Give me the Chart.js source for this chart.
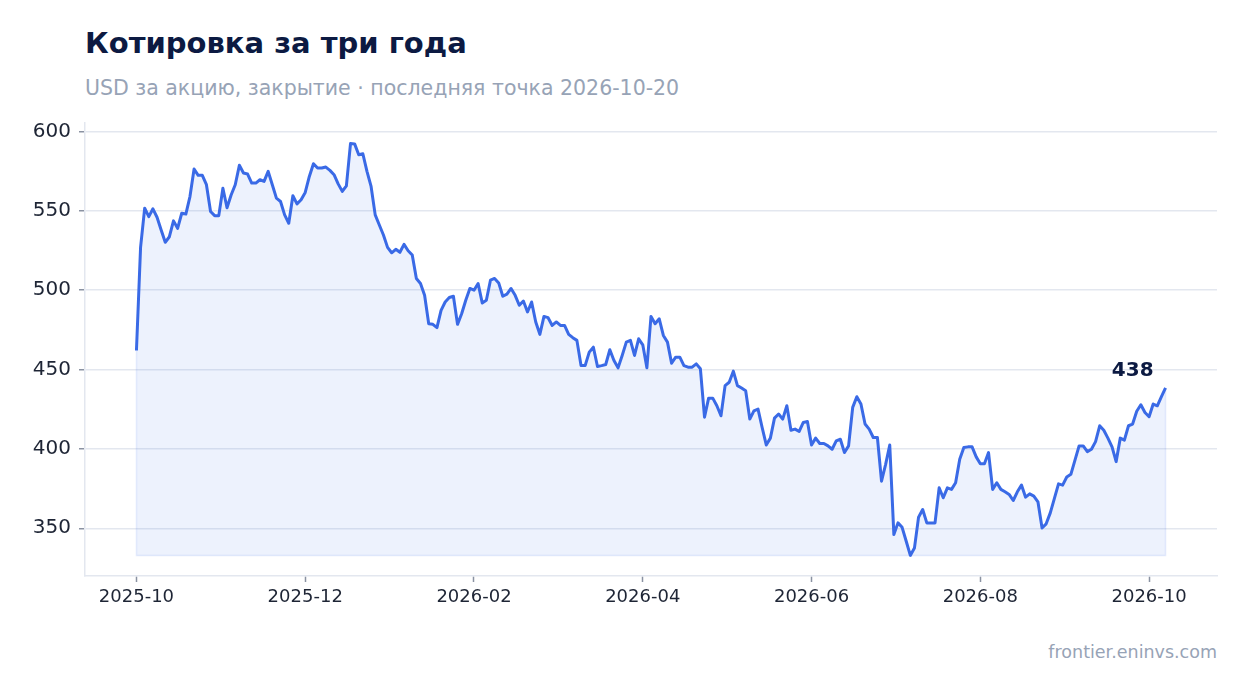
<!DOCTYPE html>
<html>
<head>
<meta charset="utf-8">
<script src="https://cdn.jsdelivr.net/npm/chart.js@4"></script>
<style>
  body { margin: 0; background: #fff; font-family: "DejaVu Sans", sans-serif; }
  #wrap { position: relative; width: 1247px; height: 693px; overflow: hidden; }
  #title { position: absolute; left: 85px; top: 26px; font-size: 29px; font-weight: bold; color: #0c1a42; white-space: nowrap; }
  #subtitle { position: absolute; left: 85px; top: 76px; font-size: 20.5px; color: #97a3b6; white-space: nowrap; }
  #footer { position: absolute; right: 30px; top: 642px; font-size: 17.5px; color: #97a3b6; }
  #chartBox { position: absolute; left: 0; top: 110px; width: 1247px; height: 510px; }
</style>
</head>
<body>
<div id="wrap">
  <div id="title">Котировка за три года</div>
  <div id="subtitle">USD за акцию, закрытие · последняя точка 2026-10-20</div>
  <div id="chartBox"><canvas id="priceChart"></canvas></div>
  <div id="footer">frontier.eninvs.com</div>
</div>
<script>
// closing prices, one per trading day
const prices = [
  462, 527, 551.7, 546.4, 551.3, 546, 538, 530.2, 533.7, 543.7, 539, 548.5, 548, 559, 576.4, 572.4,
  572.4, 566.5, 549.6, 547, 547, 564.3, 552, 560, 566.5, 578.7, 573.9, 573.2, 567.5, 567.5, 569.6,
  568.6, 574.9, 566.5, 558, 555.9, 547.5, 542.2, 559.5, 554.4, 557, 561.6, 571.7, 579.7, 577, 577,
  577.6, 575.5, 572.8, 567, 562.3, 565.8, 592.4, 592.2, 585.4, 586, 574.9, 565.4, 547.5,
  541.1, 534.8, 527, 523.6, 525.8, 523.9, 528.9, 524.9, 522.2, 507.4, 504.2, 496.8, 478.9, 478.5,
  476.4, 487.3, 492.6, 495.4, 496.2, 478.5, 485.2, 493.7, 501.1, 500, 504.2, 492, 493.7, 506.3,
  507.4, 504.6, 496.2, 497.5, 501.1,
  496.8, 490.5, 493.2, 486.3, 492.6, 480, 472.2, 483.5, 482.7, 477.8, 480, 477.8, 477.8, 472.2,
  470.1, 468.4, 452.5, 452.5, 461, 464.1, 451.9, 452.5, 453.2, 462.5, 455.7, 451.1, 458.9, 467.3,
  468.4, 458.9,
  469.4, 465.6, 451.1, 483.5, 478.9, 482, 471.5, 467.3, 454, 457.8, 457.8, 452.5, 451.5, 451.5,
  453.6, 450.5, 420, 432, 432, 427.2, 420.9, 439.9, 442, 449, 439.9, 438.4, 436.7, 418.8, 424, 425.1,
  413.5, 402.5, 406.8, 419.4, 422, 418.8, 427.2, 411.8, 412.5, 411, 416.7, 417.3, 402.5, 406.8,
  403.4, 403.4, 401.9, 399.8, 405.1, 406.1, 397.7, 401.9, 426.2, 432.9, 428.3, 415.7, 412.5, 407.2,
  407.2, 379.7,
  390.3, 402.5, 346, 353.4, 350.6, 341.8, 332.9, 337.5, 357, 361.8, 353.4, 353.4, 353.4, 375.5,
  369.2, 375.5, 374.5, 378.7, 393.5, 400.9, 401.3, 401.3, 395, 390.7, 390.7, 397.7, 374.5, 378.7,
  374.5, 373, 371.3,
  367.5, 373, 377.2, 369.6, 371.7, 370.3, 366.7, 350.2, 352.8, 359.7, 368.8, 378, 377.2, 382.3,
  384, 392.9, 401.9, 401.9, 398.3, 399.8, 404.6, 414.6, 411.8, 406.8, 401.3, 392, 406.8, 405.5,
  414.6, 415.7, 423.7, 427.8, 423, 420.3, 428.3, 427.2, 432.9, 438.4
];

// month labels, one every ~41 trading days
const xTickLabels = ['2025-10', '2025-12', '2026-02', '2026-04', '2026-06', '2026-08', '2026-10'];
const TICK_STEP = 41;
const yTicks = [350, 400, 450, 500, 550, 600];

const lineColor = '#3a6ae6';
const gridColor = '#e3e7ef';
const tickMarkColor = '#8a92a2';
const labelColor = '#1e2535';

const lo = Math.min(...prices), hi = Math.max(...prices);
const pad = (hi - lo) * 0.05;
const lastIdx = prices.length - 1;
const points = prices.map((v, i) => ({ x: i, y: v }));

// faint outline on the sides and bottom of the filled area, plus last value label
const extras = {
  id: 'extras',
  afterDatasetsDraw(chart) {
    const { ctx, scales: { x, y } } = chart;
    const x0 = x.getPixelForValue(0), x1 = x.getPixelForValue(lastIdx);
    const yb = y.getPixelForValue(lo);
    ctx.save();
    ctx.strokeStyle = 'rgba(58,106,230,0.13)';
    ctx.lineWidth = 1.5;
    ctx.beginPath();
    ctx.moveTo(x0, y.getPixelForValue(prices[0]));
    ctx.lineTo(x0, yb);
    ctx.lineTo(x1, yb);
    ctx.lineTo(x1, y.getPixelForValue(prices[lastIdx]));
    ctx.stroke();

    const px = x.getPixelForValue(lastIdx), py = y.getPixelForValue(prices[lastIdx]);
    ctx.fillStyle = '#0c1a42';
    ctx.font = 'bold 20px "DejaVu Sans"';
    ctx.textAlign = 'right';
    ctx.textBaseline = 'alphabetic';
    ctx.fillText(Math.round(prices[lastIdx]).toString(), px - 12, py - 12);
    ctx.restore();
  }
};

new Chart(document.getElementById('priceChart'), {
  type: 'line',
  data: {
    datasets: [{
      data: points,
      borderColor: lineColor,
      borderWidth: 3,
      backgroundColor: 'rgba(58,106,230,0.09)',
      fill: { value: lo },
      pointRadius: 0,
      tension: 0,
      borderJoinStyle: 'round'
    }]
  },
  options: {
    responsive: true,
    maintainAspectRatio: false,
    animation: false,
    layout: { padding: { top: 13, right: 30, left: 0, bottom: 0 } },
    plugins: { legend: { display: false }, tooltip: { enabled: false } },
    scales: {
      x: {
        type: 'linear',
        min: -lastIdx * 0.05,
        max: lastIdx * 1.05,
        afterBuildTicks: s => { s.ticks = xTickLabels.map((_, i) => ({ value: i * TICK_STEP })); },
        afterFit: s => { s.height = 44; s.paddingLeft = 0; s.paddingRight = 0; },
        ticks: {
          callback: v => xTickLabels[Math.round(v / TICK_STEP)],
          color: labelColor,
          font: { family: 'DejaVu Sans', size: 18 },
          padding: 5,
          maxRotation: 0
        },
        grid: { drawOnChartArea: false, drawTicks: true, tickLength: 6, tickColor: tickMarkColor, tickWidth: 1.5 },
        border: { display: true, color: gridColor, width: 1.5 }
      },
      y: {
        min: lo - pad,
        max: hi + pad,
        afterBuildTicks: s => { s.ticks = yTicks.map(v => ({ value: v })); },
        afterFit: s => { s.width = 85; s.paddingTop = 0; s.paddingBottom = 0; },
        ticks: {
          color: labelColor,
          font: { family: 'DejaVu Sans', size: 20 },
          padding: 8
        },
        grid: { color: gridColor, lineWidth: 1.5, tickLength: 6, tickColor: tickMarkColor, tickWidth: 1.5 },
        border: { display: true, color: gridColor, width: 1.5 }
      }
    }
  },
  plugins: [extras]
});
</script>
</body>
</html>
